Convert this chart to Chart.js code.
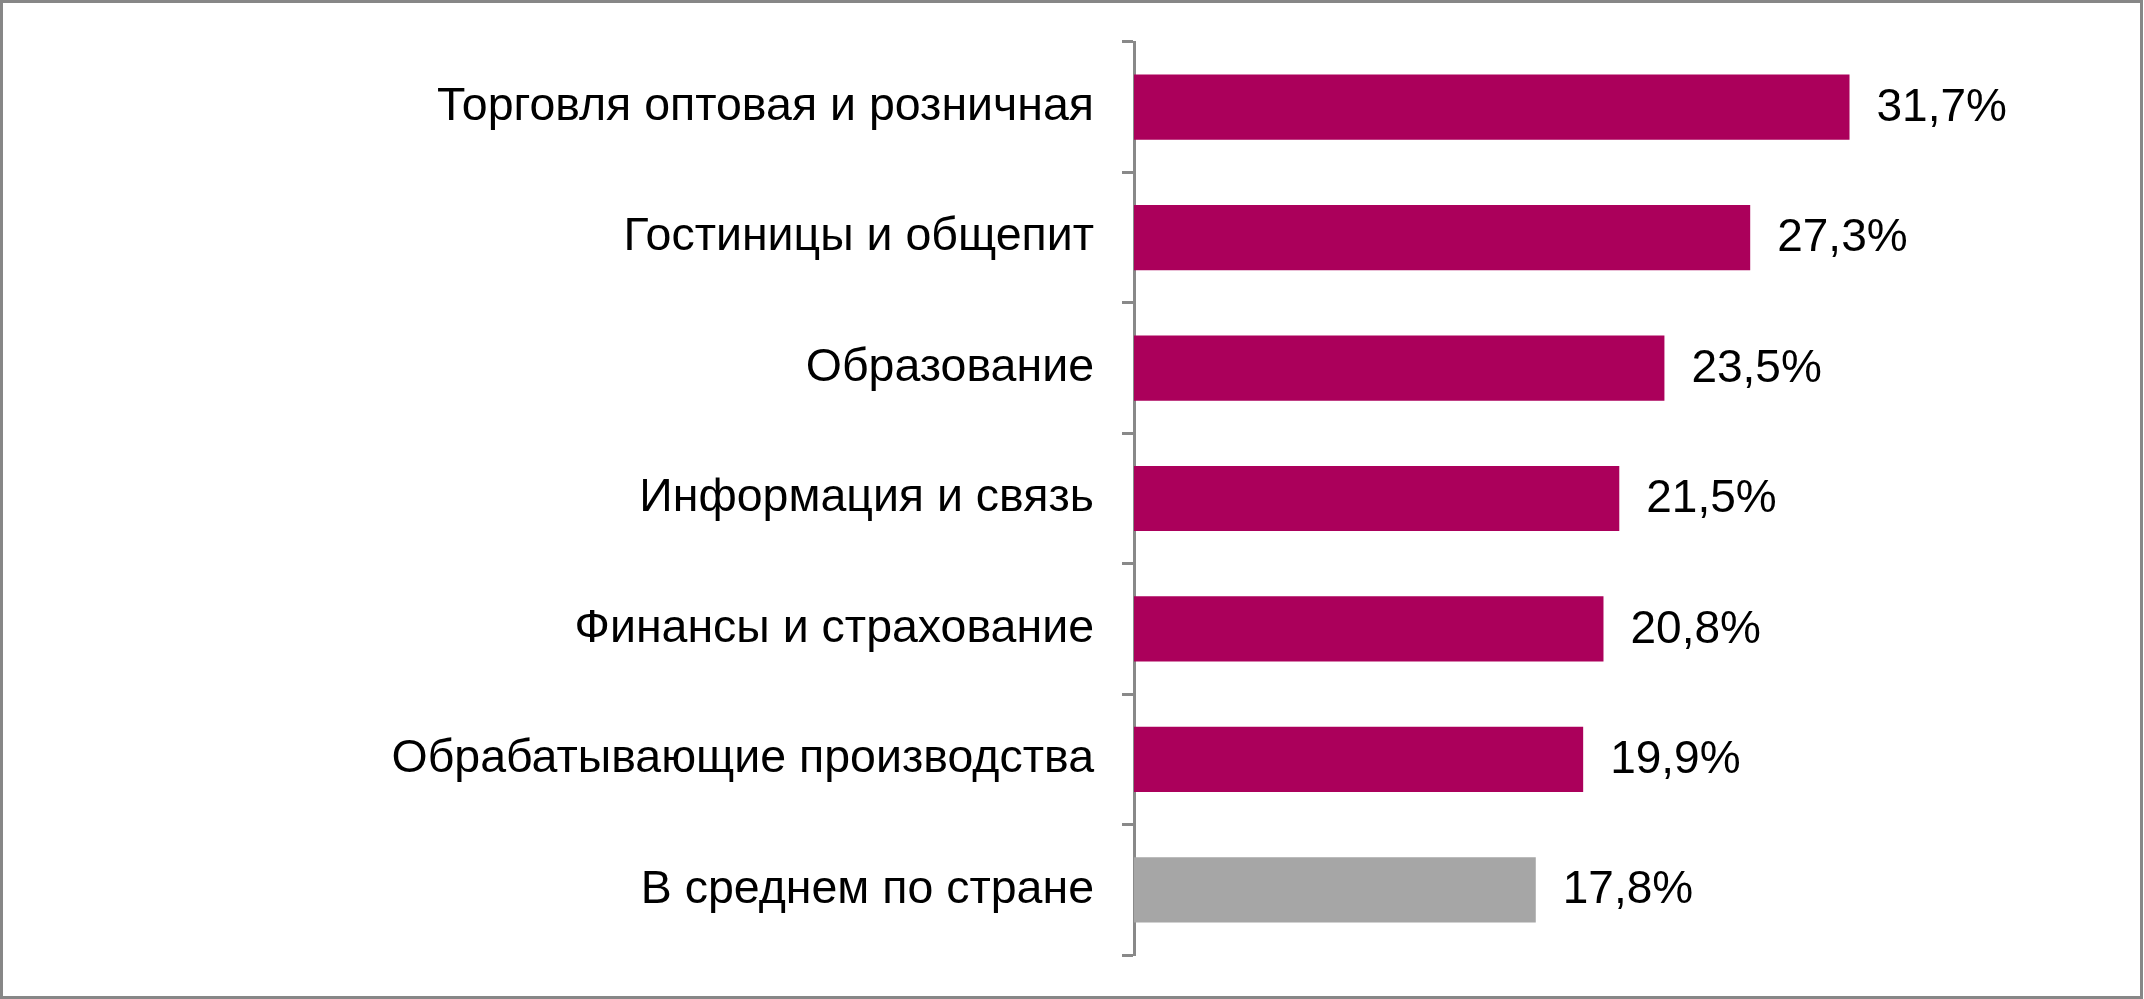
<!DOCTYPE html>
<html lang="ru">
<head>
<meta charset="utf-8">
<title>Доля по отраслям</title>
<script src="https://cdn.jsdelivr.net/npm/chart.js@4.4.1/dist/chart.umd.min.js"></script>
<style>
  html, body { margin: 0; padding: 0; background: #fff; }
  #wrap { width: 2144px; height: 999px; position: relative; }
</style>
</head>
<body>
<div id="wrap"><canvas id="barChart" width="2144" height="999"></canvas></div>
<script>
// --- dados ---
const categories = [
    'Торговля оптовая и розничная',
    'Гостиницы и общепит',
    'Образование',
    'Информация и связь',
    'Финансы и страхование',
    'Обрабатывающие производства',
    'В среднем по стране'
];
const shareValues = [31.7, 27.3, 23.5, 21.5, 20.8, 19.9, 17.8];
const averageLabel = 'В среднем по стране';
const axisMax = 35;

// cores
const barColor = '#AB005B';
const avgColor = '#A6A6A6';
const lineGray = '#898989';
const fontFamily = "'Liberation Sans', Arial, sans-serif";

// rótulos de valor à direita da barra
const valueLabels = {
    id: 'valueLabels',
    afterDatasetsDraw(chart) {
        const ctx = chart.ctx;
        const meta = chart.getDatasetMeta(0);
        ctx.save();
        ctx.font = '46px ' + fontFamily;
        ctx.fillStyle = '#000';
        ctx.textAlign = 'left';
        ctx.textBaseline = 'middle';
        meta.data.forEach((bar, i) => {
            const txt = shareValues[i].toFixed(1).replace('.', ',') + '%';
            ctx.fillText(txt, bar.x + 27, bar.y + 1);
        });
        ctx.restore();
    }
};

// moldura cinza em volta da figura
const frame = {
    id: 'frame',
    beforeDraw(chart) {
        const ctx = chart.ctx;
        ctx.save();
        ctx.fillStyle = '#fff';
        ctx.fillRect(0, 0, chart.width, chart.height);
        ctx.strokeStyle = '#878787';
        ctx.lineWidth = 3;
        ctx.strokeRect(1.5, 1.5, 2140, chart.height - 3);
        ctx.restore();
    }
};

const ctxBar = document.getElementById('barChart').getContext('2d');
const barChart = new Chart(ctxBar, {
    type: 'bar',
    data: {
        labels: categories,
        datasets: [{
            data: shareValues,
            backgroundColor: categories.map(c => c === averageLabel ? avgColor : barColor),
            borderWidth: 0,
            barPercentage: 0.5,
            categoryPercentage: 1.0
        }]
    },
    options: {
        indexAxis: 'y',
        responsive: false,
        devicePixelRatio: 1,
        animation: false,
        layout: {
            padding: { top: 42, bottom: 44, left: 0, right: 220 }
        },
        plugins: {
            legend: { display: false },
            tooltip: { enabled: false }
        },
        scales: {
            x: {
                display: false,
                min: 0,
                max: axisMax
            },
            y: {
                afterFit: (scale) => {
                    scale.width = 1134;
                    // sem folga extra dos rótulos em cima/embaixo
                    scale.paddingTop = 0;
                    scale.paddingBottom = 0;
                },
                grid: {
                    offset: true,
                    drawOnChartArea: false,
                    drawTicks: true,
                    tickLength: 12,
                    tickWidth: 3,
                    tickColor: lineGray
                },
                border: { display: true, color: lineGray, width: 3 },
                ticks: {
                    color: '#000',
                    padding: 28,
                    font: { size: 46.5, family: fontFamily }
                }
            }
        }
    },
    plugins: [frame, valueLabels]
});
</script>
</body>
</html>
